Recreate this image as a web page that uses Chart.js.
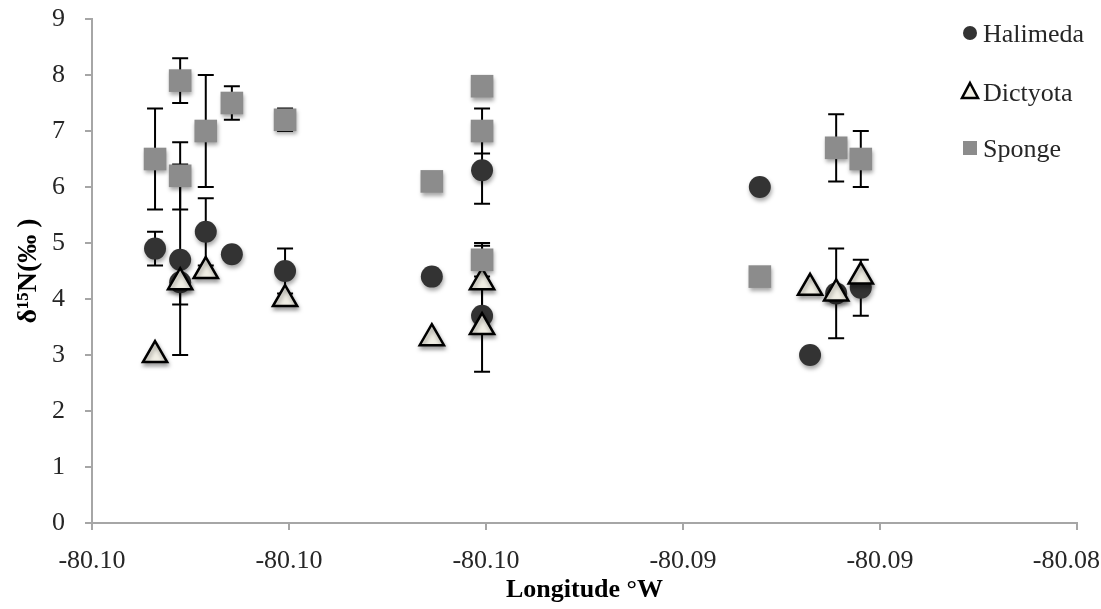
<!DOCTYPE html>
<html lang="en">
<head>
<meta charset="UTF-8">
<title>d15N x Longitude</title>
<script src="https://cdn.jsdelivr.net/npm/chart.js"></script>
<style>
    html, body {
        margin: 0;
        padding: 0;
        background: #ffffff;
    }
    .grafico {
        width: 1101px;
        height: 609px;
        position: relative;
    }
</style>
</head>
<body>
<div class="grafico">
    <canvas id="graficoN15"></canvas>
</div>

<script>
    // axis labels as printed (two decimals)
    var xTickLabels = ['-80.10', '-80.10', '-80.10', '-80.09', '-80.09', '-80.08'];

    // Halimeda
    var halimedaLon = [-80.09872, -80.09821, -80.09821, -80.09769, -80.09716, -80.09608, -80.09310, -80.09208, -80.09208, -80.08644, -80.08542, -80.08489, -80.08439];
    var halimedaN   = [4.9, 4.7, 4.3, 5.2, 4.8, 4.5, 4.4, 6.3, 3.7, 6.0, 3.0, 4.1, 4.2];
    var halimedaErr = [0.3, 1.7, 0, 0.6, 0, 0.4, 0, 0.6, 1.0, 0, 0, 0, 0.5];

    // Dictyota
    var dictyotaLon = [-80.09872, -80.09821, -80.09769, -80.09608, -80.09310, -80.09208, -80.09208, -80.08542, -80.08489, -80.08439];
    var dictyotaN   = [3.0, 4.3, 4.5, 4.0, 3.3, 4.3, 3.5, 4.2, 4.1, 4.4];
    var dictyotaErr = [0, 0.4, 0, 0, 0, 0.65, 0, 0, 0.8, 0];

    // Sponge
    var spongeLon = [-80.09872, -80.09821, -80.09821, -80.09769, -80.09716, -80.09608, -80.09310, -80.09208, -80.09208, -80.09208, -80.08644, -80.08489, -80.08439];
    var spongeN   = [6.5, 7.9, 6.2, 7.0, 7.5, 7.2, 6.1, 7.8, 7.0, 4.7, 4.4, 6.7, 6.5];
    var spongeErr = [0.9, 0.4, 0.6, 1.0, 0.3, 0.2, 0, 0, 0.4, 0.3, 0, 0.6, 0.5];

    var fonte = "'Liberation Serif', 'Times New Roman', serif";
    var corEixo = '#a6a6a6';
    var corTexto = '#262626';

    function pontos(lon, n) {
        var lista = [];
        for (var i = 0; i < lon.length; i++) {
            lista.push({ x: lon[i], y: n[i] });
        }
        return lista;
    }

    // vertical error bars with caps, drawn under the markers; then turn on marker shadow
    const barrasErro = {
        id: 'barrasErro',
        beforeDatasetsDraw(chart) {
            const ctx = chart.ctx;
            const sx = chart.scales.x, sy = chart.scales.y;
            ctx.save();
            ctx.strokeStyle = '#000000';
            ctx.lineWidth = 2;
            chart.data.datasets.forEach(function (ds) {
                ds.data.forEach(function (p, i) {
                    var e = ds.erros[i];
                    if (!e) return;
                    var px = sx.getPixelForValue(p.x);
                    var topo = sy.getPixelForValue(p.y + e);
                    var base = sy.getPixelForValue(p.y - e);
                    ctx.beginPath();
                    ctx.moveTo(px, topo); ctx.lineTo(px, base);
                    ctx.moveTo(px - 8, topo); ctx.lineTo(px + 8, topo);
                    ctx.moveTo(px - 8, base); ctx.lineTo(px + 8, base);
                    ctx.stroke();
                });
            });
            ctx.restore();
            ctx.save();
            ctx.shadowColor = 'rgba(0,0,0,0.35)';
            ctx.shadowBlur = 4;
            ctx.shadowOffsetX = 1;
            ctx.shadowOffsetY = 3;
        },
        afterDatasetsDraw(chart) {
            chart.ctx.restore();
        }
    };

    function desenharMarcador(ctx, estilo, x, y) {
        ctx.beginPath();
        if (estilo === 'circle') {
            ctx.fillStyle = '#333333';
            ctx.arc(x, y, 7, 0, Math.PI * 2);
            ctx.fill();
        } else if (estilo === 'triangle') {
            ctx.fillStyle = '#f1efe5';
            ctx.strokeStyle = '#000000';
            ctx.lineWidth = 2.5;
            ctx.moveTo(x, y - 9);
            ctx.lineTo(x + 8, y + 6);
            ctx.lineTo(x - 8, y + 6);
            ctx.closePath();
            ctx.fill();
            ctx.stroke();
        } else {
            ctx.fillStyle = '#8c8c8c';
            ctx.fillRect(x - 7, y - 7, 14, 14);
        }
    }

    // legend in the top right corner + x tick labels (last one kept inside the canvas)
    const textosExtras = {
        id: 'textosExtras',
        afterDraw(chart) {
            const ctx = chart.ctx;
            const sx = chart.scales.x;
            ctx.save();
            ctx.font = '26px ' + fonte;
            ctx.fillStyle = corTexto;
            ctx.textBaseline = 'middle';
            ctx.textAlign = 'left';
            var linhas = [33, 92, 148];
            chart.data.datasets.forEach(function (ds, i) {
                desenharMarcador(ctx, ds.pointStyle, 970, linhas[i]);
                ctx.fillStyle = corTexto;
                ctx.fillText(ds.label, 983, linhas[i] + 2);
            });

            ctx.textAlign = 'left';
            sx.ticks.forEach(function (t, i) {
                var texto = xTickLabels[i];
                var largura = ctx.measureText(texto).width;
                var px = sx.getPixelForTick(i) - largura / 2;
                if (px + largura > chart.width - 1) px = chart.width - 1 - largura;
                ctx.fillText(texto, px, 561);
            });
            ctx.restore();
        }
    };

    function carregarGrafico() {
        const data = {
            datasets: [
                {
                    label: 'Halimeda',
                    data: pontos(halimedaLon, halimedaN),
                    erros: halimedaErr,
                    pointStyle: 'circle',
                    pointRadius: 11,
                    backgroundColor: '#333333',
                    borderColor: '#333333',
                    borderWidth: 0,
                    order: 3
                },
                {
                    label: 'Dictyota',
                    data: pontos(dictyotaLon, dictyotaN),
                    erros: dictyotaErr,
                    pointStyle: 'triangle',
                    pointRadius: 14,
                    backgroundColor: '#f1efe5',
                    borderColor: '#000000',
                    borderWidth: 2.5,
                    order: 2
                },
                {
                    label: 'Sponge',
                    data: pontos(spongeLon, spongeN),
                    erros: spongeErr,
                    pointStyle: 'rect',
                    pointRadius: 16,
                    backgroundColor: '#8c8c8c',
                    borderColor: '#8c8c8c',
                    borderWidth: 0,
                    order: 1
                }
            ]
        };

        const config = {
            type: 'scatter',
            data: data,
            plugins: [barrasErro, textosExtras],
            options: {
                responsive: true,
                maintainAspectRatio: false,
                animation: false,
                events: [],
                layout: {
                    padding: { top: 19, right: 24, left: 0, bottom: 0 }
                },
                plugins: {
                    legend: { display: false },
                    tooltip: { enabled: false }
                },
                scales: {
                    x: {
                        type: 'linear',
                        min: -80.1,
                        max: -80.08,
                        ticks: {
                            stepSize: 0.004,
                            display: false
                        },
                        grid: {
                            drawOnChartArea: false,
                            drawTicks: true,
                            tickLength: 7,
                            color: corEixo,
                            lineWidth: 2
                        },
                        border: { color: corEixo, width: 2 },
                        title: {
                            display: true,
                            text: 'Longitude °W',
                            color: '#000000',
                            font: { family: fonte, size: 26, weight: 'bold' },
                            padding: { top: 0, bottom: 3 }
                        },
                        afterFit: function (scale) {
                            scale.height = 86;
                            scale.paddingLeft = 0;
                            scale.paddingRight = 0;
                        }
                    },
                    y: {
                        min: 0,
                        max: 9,
                        ticks: {
                            stepSize: 1,
                            color: corTexto,
                            padding: 20,
                            font: { family: fonte, size: 26 }
                        },
                        grid: {
                            drawOnChartArea: false,
                            drawTicks: true,
                            tickLength: 7,
                            color: corEixo,
                            lineWidth: 2
                        },
                        border: { color: corEixo, width: 2 },
                        title: {
                            display: true,
                            text: 'δ¹⁵N(‰ )',
                            color: '#000000',
                            font: { family: fonte, size: 28, weight: 'bold' },
                            padding: { top: 12, bottom: 0 }
                        },
                        afterFit: function (scale) {
                            scale.width = 92;
                            scale.paddingTop = 0;
                            scale.paddingBottom = 0;
                        }
                    }
                }
            }
        };

        var graficoN15 = new Chart(document.getElementById('graficoN15'), config);
    }

    carregarGrafico();
</script>
</body>
</html>
